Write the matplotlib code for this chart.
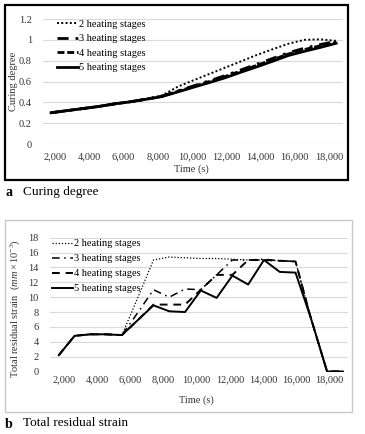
import numpy as np
import matplotlib
matplotlib.use("Agg")
import matplotlib.pyplot as plt
from matplotlib.patches import Rectangle
from matplotlib.ticker import FuncFormatter

plt.rcParams["font.family"] = ["Liberation Serif", "DejaVu Serif"]
plt.rcParams["mathtext.fontset"] = "custom"
plt.rcParams["mathtext.rm"] = "Liberation Serif"
plt.rcParams["mathtext.it"] = "Liberation Serif:italic"

labels = ["2 heating stages", "3 heating stages", "4 heating stages", "5 heating stages"]

# (a) curing degree
time_a = [1770, 2690, 3620, 4540, 5470, 6390, 7320, 8240, 9170, 10090,
          11020, 11940, 12870, 13790, 14720, 15640, 16570, 17490, 18420]
cure_2 = [0.30, 0.32, 0.34, 0.36, 0.385, 0.405, 0.43, 0.465, 0.55, 0.612,
          0.673, 0.733, 0.794, 0.855, 0.91, 0.963, 1.0, 1.005, 0.99]
cure_3 = [0.30, 0.32, 0.34, 0.36, 0.385, 0.405, 0.43, 0.458, 0.51, 0.558,
          0.607, 0.657, 0.712, 0.766, 0.822, 0.877, 0.92, 0.955, 0.985]
cure_4 = [0.30, 0.32, 0.34, 0.36, 0.385, 0.405, 0.43, 0.458, 0.505, 0.552,
          0.60, 0.648, 0.702, 0.755, 0.81, 0.865, 0.907, 0.943, 0.975]
cure_5 = [0.30, 0.32, 0.34, 0.36, 0.385, 0.405, 0.43, 0.455, 0.50, 0.545,
          0.59, 0.636, 0.69, 0.741, 0.795, 0.85, 0.89, 0.927, 0.967]

# (b) total residual strain (mm x 10^-3)
time_b = [1700, 2650, 3600, 4550, 5500, 6450, 7400, 8350, 9300, 10250,
          11200, 12150, 13100, 14050, 15000, 15950, 16900, 17850, 18800]
strain_2 = [2.2, 4.8, 5.0, 5.0, 4.9, 9.9, 15.0, 15.4, 15.3, 15.2,
            15.2, 15.1, 15.0, 15.0, 14.9, 14.8, 7.0, 0, 0]
strain_3 = [2.2, 4.8, 5.0, 5.0, 4.9, 7.9, 11.0, 10.0, 11.1, 11.0,
            13.0, 15.0, 15.0, 15.1, 14.9, 14.8, 7.0, 0, 0]
strain_4 = [2.2, 4.8, 5.0, 5.0, 4.9, 6.9, 9.0, 9.0, 9.0, 11.0,
            13.0, 13.0, 15.0, 15.0, 14.9, 14.8, 7.0, 0, 0]
strain_5 = [2.2, 4.8, 5.0, 5.0, 4.9, 6.9, 8.9, 8.1, 8.0, 10.9,
            9.9, 12.9, 11.7, 15.0, 13.4, 13.3, 7.0, 0, 0]

xticks = list(range(2000, 18001, 2000))

W, H = 365, 434
fig = plt.figure(figsize=(W / 100, H / 100), dpi=100)


def fx(px):
    return px / W


def fy(py):
    return 1 - py / H


# frames
fig.patches.append(Rectangle((fx(5), fy(180)), fx(343), 175 / H, transform=fig.transFigure,
                             fill=False, edgecolor="black", linewidth=1.6))
fig.patches.append(Rectangle((fx(5), fy(411.5)), fx(347), 191.5 / H, transform=fig.transFigure,
                             fill=False, edgecolor="#c8c8c8", linewidth=1.0))

tick_color = "#333333"
grid_color = "#d9d9d9"
fs = 7.5


def style_axes(ax):
    for s in ax.spines.values():
        s.set_visible(False)
    ax.grid(axis="y", color=grid_color, linewidth=0.8)
    ax.set_axisbelow(True)
    ax.tick_params(length=0, labelsize=fs, colors=tick_color)
    ax.set_xticks(xticks)
    ax.xaxis.set_major_formatter(FuncFormatter(lambda v, p: f"{int(v):,}"))


# top chart
ax1 = fig.add_axes([fx(43), fy(144), 300 / W, 125 / H])
style_axes(ax1)
ax1.plot(time_a, cure_2, color="black", lw=1.4, ls=(0, (1, 1.2)))
ax1.plot(time_a, cure_3, color="black", lw=2.0, ls=(0, (4, 2.5, 1, 2.5)))
ax1.plot(time_a, cure_4, color="black", lw=2.0, ls=(0, (2.5, 1)))
ax1.plot(time_a, cure_5, color="black", lw=2.0)
ax1.set_xlim(1300, 18820)
ax1.set_ylim(0, 1.2)
ax1.set_yticks(np.arange(0, 1.21, 0.2))
ax1.yaxis.set_major_formatter(FuncFormatter(lambda v, p: f"{v:g}"))
ax1.tick_params(axis="x", pad=6)
ax1.tick_params(axis="y", pad=8)
ax1.legend(labels, loc="upper left", bbox_to_anchor=(0.047, 0.995), frameon=False,
           fontsize=fs, handlelength=2.0, handletextpad=0.1, labelspacing=0.5,
           borderpad=0, borderaxespad=0)
ax1.set_xlabel("Time (s)", fontsize=fs, color=tick_color)
ax1.xaxis.set_label_coords(0.495, -0.165)
ax1.set_ylabel("Curing degree", fontsize=fs, color=tick_color)
ax1.yaxis.set_label_coords(-0.085, 0.5)

# bottom chart
ax2 = fig.add_axes([fx(50), fy(371.5), 298 / W, 133.8 / H])
style_axes(ax2)
ax2.plot(time_b, strain_2, color="black", lw=0.9, ls=(0, (1, 1.5)))
ax2.plot(time_b, strain_3, color="black", lw=1.1, ls=(0, (5, 3, 1, 3)))
ax2.plot(time_b, strain_4, color="black", lw=1.4, ls=(0, (4, 3)))
ax2.plot(time_b, strain_5, color="black", lw=1.4)
ax2.set_xlim(1170, 19110)
ax2.set_ylim(0, 18)
ax2.set_yticks(range(0, 19, 2))
ax2.tick_params(axis="x", pad=3)
ax2.tick_params(axis="y", pad=8)
ax2.legend(labels, loc="upper left", bbox_to_anchor=(0.007, 0.99), frameon=False,
           fontsize=fs, handlelength=2.0, handletextpad=0.1, labelspacing=0.55,
           borderpad=0, borderaxespad=0)
ax2.set_xlabel("Time (s)", fontsize=fs, color=tick_color)
ax2.xaxis.set_label_coords(0.49, -0.175)
ax2.set_ylabel(r"Total residual strain  $(mm \times 10^{-3})$", fontsize=fs, color=tick_color)
ax2.yaxis.set_label_coords(-0.095, 0.47)

# captions
fig.text(fx(5), fy(193), "a", fontsize=10, fontweight="bold", va="center", ha="left")
fig.text(fx(23), fy(192), "Curing degree", fontsize=9.5, va="center", ha="left")
fig.text(fx(5), fy(424), "b", fontsize=10, fontweight="bold", va="center", ha="left")
fig.text(fx(23), fy(423), "Total residual strain", fontsize=9.5, va="center", ha="left")

fig.savefig("out.png", dpi=100)
